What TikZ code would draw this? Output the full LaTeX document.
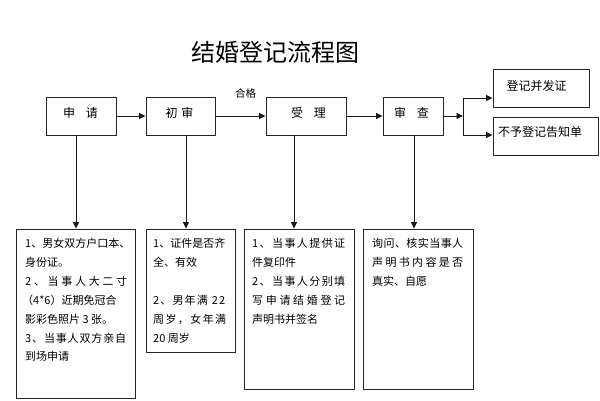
\documentclass[tikz,border=0pt]{standalone}
\usepackage{fontspec}
\setmainfont{Noto Sans CJK SC}
\usetikzlibrary{arrows.meta}
\makeatletter
\def\jstaux#1{#1\futurelet\jst@next\jstcheck}
\def\jstcheck{\ifx\jst@next\relax\expandafter\jstend\else\hfil\expandafter\jstaux\fi}
\def\jstend\relax{}
\makeatother
\newcommand\jline[2]{\makebox[#1pt][s]{\jstaux#2\relax}}
\begin{document}
\begin{tikzpicture}[x=1pt,y=-1pt,
  box/.style={draw=black!85, line width=0.9pt, inner sep=0pt},
  lbl/.style={inner sep=0pt, font=\fontsize{12}{14}\selectfont},
  txt/.style={inner sep=0pt, anchor=west, font=\fontsize{11}{13}\selectfont},
  arr/.style={draw=black!90, line width=0.9pt, -{Triangle[length=6.5pt,width=6pt]}},
  ln/.style={draw=black!90, line width=0.9pt}]
\useasboundingbox[fill=white] (0,0) rectangle (600,400);
% title
\node[inner sep=0pt, font=\fontsize{24}{28}\selectfont] (title) at (275,52) {结婚登记流程图};
% top row
\node[box, minimum width=70, minimum height=38] (sq) at (81,116) {};
\node[box, minimum width=69, minimum height=38] (cs) at (180.5,116) {};
\node[box, minimum width=80, minimum height=38] (sl) at (306,116) {};
\node[box, minimum width=60, minimum height=38] (sc) at (413,116) {};
\node[box, minimum width=96, minimum height=38] (dj) at (541,88) {};
\node[box, minimum width=105, minimum height=38] (by) at (545.5,136) {};
\node[lbl] (tsq) at (80.5,113) {申\hspace{0.9em}请};
\node[lbl] (tcs) at (179.5,113) {初\hspace{0.3em}审};
\node[lbl] (tsl) at (308.5,113) {受\hspace{0.9em}理};
\node[lbl] (tsc) at (411.5,113) {审\hspace{0.9em}查};
\node[lbl] (tdj) at (536.5,86) {登记并发证};
\node[lbl] (tby) at (540,132) {不予登记告知单};
\node[inner sep=0pt, font=\fontsize{10.5}{12}\selectfont] (hg) at (245.5,93) {合格};
% arrows top
\draw[arr] (sq.east) -- (cs.west);
\draw[arr] (cs.east) -- (sl.west);
\draw[arr] (sl.east) -- (sc.west);
\coordinate (j) at (463,116);
\coordinate (jt) at (463,98);
\coordinate (jb) at (463,135);
\draw[arr] (sc.east) -- (j);
\draw[ln] (jt) -- (jb);
\draw[arr] (jt) -- (jt -| dj.west);
\draw[arr] (jb) -- (jb -| by.west);
% bottom boxes
\node[box, minimum width=119, minimum height=169] (b1) at (75.5,313.5) {};
\node[box, minimum width=89, minimum height=123] (b2) at (190.5,290.5) {};
\node[box, minimum width=110, minimum height=160] (b3) at (299,309) {};
\node[box, minimum width=110, minimum height=160] (b4) at (418,309) {};
% drops
\draw[arr] (sq.south -| 76,0) -- (b1.north -| 76,0);
\draw[arr] (cs.south -| 186,0) -- (b2.north -| 186,0);
\draw[arr] (sl.south -| 294,0) -- (b3.north -| 294,0);
\draw[arr] (sc.south -| 414,0) -- (b4.north -| 414,0);
% box 1 text
\node[txt] (a1) at (25,243) {\jline{103}{1、男女双方户口本、}};
\node[txt] (a2) at (25,262) {身份证。};
\node[txt] (a3) at (25,281.5) {\jline{102}{2、当事人大二寸}};
\node[txt] (a4) at (22,300.5) {（4*6）近期免冠合};
\node[txt] (a5) at (25,319.5) {影彩色照片 3 张。};
\node[txt] (a6) at (25,338) {\jline{101}{3、当事人双方亲自}};
\node[txt] (a7) at (25,356.5) {到场申请};
% box 2 text
\node[txt] (c1) at (153,243) {\jline{72}{1、证件是否齐}};
\node[txt] (c2) at (153,262) {全、有效};
\node[txt] (c3) at (153,300.5) {\jline{72}{2、男年满{\,}22}};
\node[txt] (c4) at (153,319.5) {\jline{73}{周岁，女年满}};
\node[txt] (c5) at (153,338) {20 周岁};
% box 3 text
\node[txt] (d1) at (252,243) {\jline{93}{1、当事人提供证}};
\node[txt] (d2) at (252,262) {件复印件};
\node[txt] (d3) at (252,281.5) {\jline{93}{2、当事人分别填}};
\node[txt] (d4) at (252,300.5) {\jline{93}{写申请结婚登记}};
\node[txt] (d5) at (252,319.5) {声明书并签名};
% box 4 text
\node[txt] (e1) at (372,243) {\jline{91}{询问、核实当事人}};
\node[txt] (e2) at (372,262) {\jline{91}{声明书内容是否}};
\node[txt] (e3) at (372,281.5) {真实、自愿};
\end{tikzpicture}
\end{document}
